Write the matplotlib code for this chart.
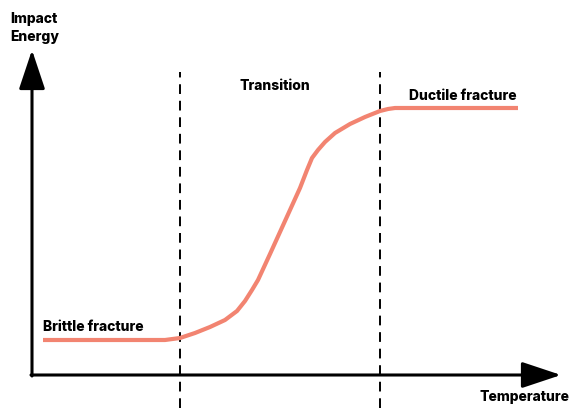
import matplotlib.pyplot as plt

# temperature vs impact energy (arbitrary units)
temperature = [43, 165, 180, 195, 210, 225, 237, 245, 252, 258, 270, 285, 300,
               307, 312, 318, 325, 335, 350, 365, 380, 388, 395, 518]
energy = [68, 68, 70, 75, 81, 88, 97, 107, 118, 128, 154, 187, 220,
          238, 250, 258, 266, 275, 284, 291, 297, 299, 300, 300]

boundaries = [180, 380]
labels = ["Brittle fracture", "Transition", "Ductile fracture"]

plt.rcParams['font.family'] = ['Inter', 'DejaVu Sans']

fig = plt.figure(figsize=(5.71, 4.08), dpi=100)
ax = fig.add_axes([0, 0, 1, 1])
ax.set_xlim(0, 571)
ax.set_ylim(0, 408)
ax.axis('off')

# axes with arrows
arrow = dict(arrowstyle='-|>,head_length=1.35,head_width=0.45', color='k',
             lw=2.2, mutation_scale=18, shrinkA=0, shrinkB=0)
ax.annotate('', xy=(32, 358), xytext=(32, 32), arrowprops=arrow)
ax.annotate('', xy=(561, 33), xytext=(31, 33), arrowprops=arrow)

for b in boundaries:
    ax.plot([b, b], [0, 336], color='k', lw=1.4, ls=(0, (5, 3.5)))

ax.plot(temperature, energy, color='#f28471', lw=3, solid_capstyle='butt',
        solid_joinstyle='round')

fs = 10
w = 'heavy'
ax.text(43, 81, labels[0], fontsize=fs, fontweight=w, va='center', ha='left')
ax.text(275, 322, labels[1], fontsize=fs, fontweight=w, va='center', ha='center')
ax.text(409, 312, labels[2], fontsize=fs, fontweight=w, va='center', ha='left')
ax.text(10, 380, "Impact\nEnergy", fontsize=fs, fontweight=w, va='center',
        ha='left', linespacing=1.3)
ax.text(569, 11, "Temperature", fontsize=fs, fontweight=w, va='center', ha='right')

fig.savefig('out.png', dpi=100)
